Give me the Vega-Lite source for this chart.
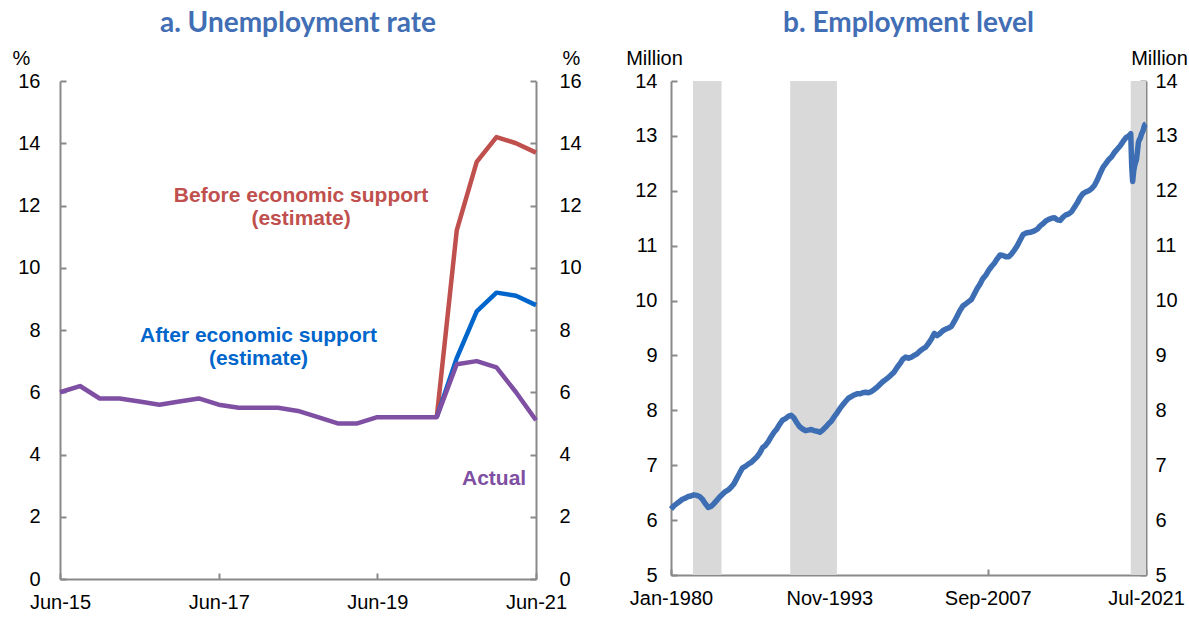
{
  "$schema": "https://vega.github.io/schema/vega-lite/v6.json",
  "background": "white",
  "padding": {"left": 12, "top": 10, "right": 2, "bottom": 2},
  "spacing": 43,
  "config": {
    "font": "Liberation Sans",
    "view": {"stroke": null},
    "axis": {
      "grid": false,
      "domainColor": "#898989",
      "domainWidth": 2,
      "tickColor": "#898989",
      "tickWidth": 2,
      "tickSize": -6,
      "labelFont": "Liberation Sans",
      "labelFontSize": 20,
      "labelColor": "#000000",
      "titleFont": "Liberation Sans",
      "titleFontSize": 20,
      "titleFontWeight": "normal",
      "titleColor": "#000000",
      "labelOverlap": false,
      "labelBound": false
    },
    "title": {"font": "Lato", "fontSize": 28, "fontWeight": "bold", "color": "#416EB4", "offset": 10}
  },
  "datasets": {
    "unemp": [
      {"date": "2015-06-01", "series": "Actual", "value": 6.0},
      {"date": "2015-09-01", "series": "Actual", "value": 6.2},
      {"date": "2015-12-01", "series": "Actual", "value": 5.8},
      {"date": "2016-03-01", "series": "Actual", "value": 5.8},
      {"date": "2016-06-01", "series": "Actual", "value": 5.7},
      {"date": "2016-09-01", "series": "Actual", "value": 5.6},
      {"date": "2016-12-01", "series": "Actual", "value": 5.7},
      {"date": "2017-03-01", "series": "Actual", "value": 5.8},
      {"date": "2017-06-01", "series": "Actual", "value": 5.6},
      {"date": "2017-09-01", "series": "Actual", "value": 5.5},
      {"date": "2017-12-01", "series": "Actual", "value": 5.5},
      {"date": "2018-03-01", "series": "Actual", "value": 5.5},
      {"date": "2018-06-01", "series": "Actual", "value": 5.4},
      {"date": "2018-09-01", "series": "Actual", "value": 5.2},
      {"date": "2018-12-01", "series": "Actual", "value": 5.0},
      {"date": "2019-03-01", "series": "Actual", "value": 5.0},
      {"date": "2019-06-01", "series": "Actual", "value": 5.2},
      {"date": "2019-09-01", "series": "Actual", "value": 5.2},
      {"date": "2019-12-01", "series": "Actual", "value": 5.2},
      {"date": "2020-03-01", "series": "Actual", "value": 5.2},
      {"date": "2020-06-01", "series": "Actual", "value": 6.9},
      {"date": "2020-09-01", "series": "Actual", "value": 7.0},
      {"date": "2020-12-01", "series": "Actual", "value": 6.8},
      {"date": "2021-03-01", "series": "Actual", "value": 6.0},
      {"date": "2021-06-01", "series": "Actual", "value": 5.1},
      {"date": "2020-03-01", "series": "Before", "value": 5.2},
      {"date": "2020-06-01", "series": "Before", "value": 11.2},
      {"date": "2020-09-01", "series": "Before", "value": 13.4},
      {"date": "2020-12-01", "series": "Before", "value": 14.2},
      {"date": "2021-03-01", "series": "Before", "value": 14.0},
      {"date": "2021-06-01", "series": "Before", "value": 13.7},
      {"date": "2020-03-01", "series": "After", "value": 5.2},
      {"date": "2020-06-01", "series": "After", "value": 7.1},
      {"date": "2020-09-01", "series": "After", "value": 8.6},
      {"date": "2020-12-01", "series": "After", "value": 9.2},
      {"date": "2021-03-01", "series": "After", "value": 9.1},
      {"date": "2021-06-01", "series": "After", "value": 8.8}
    ],
    "labels": [
      {"date": "2018-06-15", "value": 12.3, "series": "Before", "label": "Before economic support\n(estimate)"},
      {"date": "2017-12-01", "value": 7.8, "series": "After", "label": "After economic support\n(estimate)"},
      {"date": "2020-11-20", "value": 3.2, "series": "Actual", "label": "Actual"}
    ],
    "bands": [
      {"start": "1981-12-01", "end": "1984-06-01"},
      {"start": "1990-06-01", "end": "1994-07-01"},
      {"start": "2020-03-01", "end": "2021-07-01"}
    ],
    "emp": [
      {"date": "1980-01-01", "value": 6.20}, {"date": "1980-04-01", "value": 6.26}, {"date": "1980-07-01", "value": 6.30}, {"date": "1980-10-01", "value": 6.34},
      {"date": "1981-01-01", "value": 6.38}, {"date": "1981-04-01", "value": 6.40}, {"date": "1981-07-01", "value": 6.43}, {"date": "1981-10-01", "value": 6.44},
      {"date": "1982-01-01", "value": 6.46}, {"date": "1982-04-01", "value": 6.45}, {"date": "1982-07-01", "value": 6.43}, {"date": "1982-10-01", "value": 6.38},
      {"date": "1983-01-01", "value": 6.30}, {"date": "1983-04-01", "value": 6.23}, {"date": "1983-07-01", "value": 6.25}, {"date": "1983-10-01", "value": 6.30},
      {"date": "1984-01-01", "value": 6.36}, {"date": "1984-04-01", "value": 6.42}, {"date": "1984-07-01", "value": 6.47}, {"date": "1984-10-01", "value": 6.52},
      {"date": "1985-01-01", "value": 6.55}, {"date": "1985-04-01", "value": 6.60}, {"date": "1985-07-01", "value": 6.66}, {"date": "1985-10-01", "value": 6.76},
      {"date": "1986-01-01", "value": 6.86}, {"date": "1986-04-01", "value": 6.95}, {"date": "1986-07-01", "value": 6.98}, {"date": "1986-10-01", "value": 7.02},
      {"date": "1987-01-01", "value": 7.05}, {"date": "1987-04-01", "value": 7.10}, {"date": "1987-07-01", "value": 7.15}, {"date": "1987-10-01", "value": 7.22},
      {"date": "1988-01-01", "value": 7.32}, {"date": "1988-04-01", "value": 7.36}, {"date": "1988-07-01", "value": 7.43}, {"date": "1988-10-01", "value": 7.52},
      {"date": "1989-01-01", "value": 7.60}, {"date": "1989-04-01", "value": 7.66}, {"date": "1989-07-01", "value": 7.75}, {"date": "1989-10-01", "value": 7.82},
      {"date": "1990-01-01", "value": 7.85}, {"date": "1990-04-01", "value": 7.89}, {"date": "1990-07-01", "value": 7.91}, {"date": "1990-10-01", "value": 7.86},
      {"date": "1991-01-01", "value": 7.77}, {"date": "1991-04-01", "value": 7.70}, {"date": "1991-07-01", "value": 7.66}, {"date": "1991-10-01", "value": 7.63},
      {"date": "1992-01-01", "value": 7.64}, {"date": "1992-04-01", "value": 7.65}, {"date": "1992-07-01", "value": 7.63}, {"date": "1992-10-01", "value": 7.62},
      {"date": "1993-01-01", "value": 7.60}, {"date": "1993-04-01", "value": 7.64}, {"date": "1993-07-01", "value": 7.69}, {"date": "1993-10-01", "value": 7.75},
      {"date": "1994-01-01", "value": 7.80}, {"date": "1994-04-01", "value": 7.88}, {"date": "1994-07-01", "value": 7.95}, {"date": "1994-10-01", "value": 8.03},
      {"date": "1995-01-01", "value": 8.10}, {"date": "1995-04-01", "value": 8.16}, {"date": "1995-07-01", "value": 8.22}, {"date": "1995-10-01", "value": 8.25},
      {"date": "1996-01-01", "value": 8.28}, {"date": "1996-04-01", "value": 8.30}, {"date": "1996-07-01", "value": 8.30}, {"date": "1996-10-01", "value": 8.32},
      {"date": "1997-01-01", "value": 8.33}, {"date": "1997-04-01", "value": 8.32}, {"date": "1997-07-01", "value": 8.34}, {"date": "1997-10-01", "value": 8.38},
      {"date": "1998-01-01", "value": 8.42}, {"date": "1998-04-01", "value": 8.47}, {"date": "1998-07-01", "value": 8.52}, {"date": "1998-10-01", "value": 8.56},
      {"date": "1999-01-01", "value": 8.60}, {"date": "1999-04-01", "value": 8.65}, {"date": "1999-07-01", "value": 8.70}, {"date": "1999-10-01", "value": 8.78},
      {"date": "2000-01-01", "value": 8.85}, {"date": "2000-04-01", "value": 8.93}, {"date": "2000-07-01", "value": 8.97}, {"date": "2000-10-01", "value": 8.95},
      {"date": "2001-01-01", "value": 8.97}, {"date": "2001-04-01", "value": 9.00}, {"date": "2001-07-01", "value": 9.03}, {"date": "2001-10-01", "value": 9.08},
      {"date": "2002-01-01", "value": 9.12}, {"date": "2002-04-01", "value": 9.15}, {"date": "2002-07-01", "value": 9.22}, {"date": "2002-10-01", "value": 9.30},
      {"date": "2003-01-01", "value": 9.40}, {"date": "2003-04-01", "value": 9.36}, {"date": "2003-07-01", "value": 9.40}, {"date": "2003-10-01", "value": 9.45},
      {"date": "2004-01-01", "value": 9.48}, {"date": "2004-04-01", "value": 9.50}, {"date": "2004-07-01", "value": 9.53}, {"date": "2004-10-01", "value": 9.62},
      {"date": "2005-01-01", "value": 9.72}, {"date": "2005-04-01", "value": 9.82}, {"date": "2005-07-01", "value": 9.90}, {"date": "2005-10-01", "value": 9.94},
      {"date": "2006-01-01", "value": 9.98}, {"date": "2006-04-01", "value": 10.02}, {"date": "2006-07-01", "value": 10.12}, {"date": "2006-10-01", "value": 10.22},
      {"date": "2007-01-01", "value": 10.30}, {"date": "2007-04-01", "value": 10.40}, {"date": "2007-07-01", "value": 10.46}, {"date": "2007-10-01", "value": 10.55},
      {"date": "2008-01-01", "value": 10.62}, {"date": "2008-04-01", "value": 10.68}, {"date": "2008-07-01", "value": 10.76}, {"date": "2008-10-01", "value": 10.83},
      {"date": "2009-01-01", "value": 10.82}, {"date": "2009-04-01", "value": 10.80}, {"date": "2009-07-01", "value": 10.80}, {"date": "2009-10-01", "value": 10.85},
      {"date": "2010-01-01", "value": 10.92}, {"date": "2010-04-01", "value": 11.00}, {"date": "2010-07-01", "value": 11.10}, {"date": "2010-10-01", "value": 11.20},
      {"date": "2011-01-01", "value": 11.23}, {"date": "2011-04-01", "value": 11.24}, {"date": "2011-07-01", "value": 11.25}, {"date": "2011-10-01", "value": 11.27},
      {"date": "2012-01-01", "value": 11.30}, {"date": "2012-04-01", "value": 11.36}, {"date": "2012-07-01", "value": 11.40}, {"date": "2012-10-01", "value": 11.45},
      {"date": "2013-01-01", "value": 11.48}, {"date": "2013-04-01", "value": 11.50}, {"date": "2013-07-01", "value": 11.51}, {"date": "2013-10-01", "value": 11.47},
      {"date": "2014-01-01", "value": 11.46}, {"date": "2014-04-01", "value": 11.52}, {"date": "2014-07-01", "value": 11.56}, {"date": "2014-10-01", "value": 11.58},
      {"date": "2015-01-01", "value": 11.62}, {"date": "2015-04-01", "value": 11.70}, {"date": "2015-07-01", "value": 11.78}, {"date": "2015-10-01", "value": 11.88},
      {"date": "2016-01-01", "value": 11.95}, {"date": "2016-04-01", "value": 11.98}, {"date": "2016-07-01", "value": 12.00}, {"date": "2016-10-01", "value": 12.04},
      {"date": "2017-01-01", "value": 12.10}, {"date": "2017-04-01", "value": 12.20}, {"date": "2017-07-01", "value": 12.32}, {"date": "2017-10-01", "value": 12.43},
      {"date": "2018-01-01", "value": 12.50}, {"date": "2018-04-01", "value": 12.57}, {"date": "2018-07-01", "value": 12.62}, {"date": "2018-10-01", "value": 12.70},
      {"date": "2019-01-01", "value": 12.76}, {"date": "2019-04-01", "value": 12.82}, {"date": "2019-07-01", "value": 12.90}, {"date": "2019-10-01", "value": 12.97},
      {"date": "2020-01-01", "value": 13.00}, {"date": "2020-03-01", "value": 13.04}, {"date": "2020-04-01", "value": 12.45}, {"date": "2020-05-01", "value": 12.17},
      {"date": "2020-06-01", "value": 12.35}, {"date": "2020-07-01", "value": 12.45}, {"date": "2020-08-01", "value": 12.52}, {"date": "2020-09-01", "value": 12.57},
      {"date": "2020-10-01", "value": 12.72}, {"date": "2020-11-01", "value": 12.88}, {"date": "2020-12-01", "value": 12.93}, {"date": "2021-01-01", "value": 12.96},
      {"date": "2021-02-01", "value": 13.02}, {"date": "2021-03-01", "value": 13.06}, {"date": "2021-04-01", "value": 13.10}, {"date": "2021-05-01", "value": 13.17},
      {"date": "2021-06-01", "value": 13.21}, {"date": "2021-07-01", "value": 13.22}
    ]
  },
  "hconcat": [
    {
      "width": 476,
      "height": 498,
      "title": {"text": "a. Unemployment rate"},
      "encoding": {
        "x": {
          "field": "date", "type": "temporal",
          "scale": {"type": "utc", "domain": [{"year": 2015, "month": 6, "date": 1, "utc": true}, {"year": 2021, "month": 6, "date": 1, "utc": true}]},
          "axis": {
            "title": null, "format": "%b-%y", "labelFlush": false, "labelPadding": 19,
            "values": [{"year": 2015, "month": 6, "date": 1, "utc": true}, {"year": 2017, "month": 6, "date": 1, "utc": true}, {"year": 2019, "month": 6, "date": 1, "utc": true}, {"year": 2021, "month": 6, "date": 1, "utc": true}]
          }
        }
      },
      "layer": [
        {
          "data": {"name": "unemp"},
          "transform": [{"filter": "datum.series === 'Before'"}],
          "mark": {"type": "line", "color": "#C0504D", "strokeWidth": 4.5, "strokeJoin": "round"},
          "encoding": {
            "y": {"field": "value", "type": "quantitative", "scale": {"domain": [0, 16], "nice": false, "zero": true},
              "axis": {"orient": "left", "values": [0, 2, 4, 6, 8, 10, 12, 14, 16], "labelPadding": 26, "title": "%", "titleAngle": 0, "titleAlign": "center", "titleBaseline": "middle", "titleX": -39, "titleY": -23}}
          }
        },
        {
          "data": {"name": "unemp"},
          "transform": [{"filter": "datum.series === 'After'"}],
          "mark": {"type": "line", "color": "#0066CC", "strokeWidth": 4.5, "strokeJoin": "round"},
          "encoding": {
            "y": {"field": "value", "type": "quantitative", "scale": {"domain": [0, 16], "nice": false}, "axis": null}
          }
        },
        {
          "data": {"name": "unemp"},
          "transform": [{"filter": "datum.series === 'Actual'"}],
          "mark": {"type": "line", "color": "#7E4FA2", "strokeWidth": 4.5, "strokeJoin": "round"},
          "encoding": {
            "y": {"field": "value", "type": "quantitative", "scale": {"domain": [0, 16], "nice": false}, "axis": null}
          }
        },
        {
          "data": {"name": "labels"},
          "mark": {"type": "text", "font": "Liberation Sans", "fontWeight": "bold", "fontSize": 21, "lineBreak": "\n", "lineHeight": 23, "align": "center", "baseline": "middle"},
          "encoding": {
            "y": {"field": "value", "type": "quantitative", "scale": {"domain": [0, 16], "nice": false},
              "axis": {"orient": "right", "values": [0, 2, 4, 6, 8, 10, 12, 14, 16], "labelPadding": 29, "title": "%", "titleAngle": 0, "titleAlign": "center", "titleBaseline": "middle", "titleX": 35, "titleY": -23}},
            "text": {"field": "label"},
            "color": {"field": "series", "type": "nominal", "scale": {"domain": ["Before", "After", "Actual"], "range": ["#C0504D", "#0066CC", "#7E4FA2"]}, "legend": null}
          }
        }
      ],
      "resolve": {"axis": {"y": "independent"}}
    },
    {
      "width": 475,
      "height": 494,
      "title": {"text": "b. Employment level"},
      "layer": [
        {
          "data": {"name": "bands"},
          "mark": {"type": "rect", "color": "#D9D9D9"},
          "encoding": {
            "x": {"field": "start", "type": "temporal",
              "scale": {"type": "utc", "domain": [{"year": 1980, "month": 1, "date": 1, "utc": true}, {"year": 2021, "month": 7, "date": 1, "utc": true}]},
              "axis": {
                "title": null, "format": "%b-%Y", "labelFlush": false, "labelPadding": 19,
                "values": [{"year": 1980, "month": 1, "date": 1, "utc": true}, {"year": 1993, "month": 11, "date": 1, "utc": true}, {"year": 2007, "month": 9, "date": 1, "utc": true}, {"year": 2021, "month": 7, "date": 1, "utc": true}]
              }},
            "x2": {"field": "end"},
            "y": {"datum": 5, "type": "quantitative", "scale": {"domain": [5, 14], "nice": false, "zero": false}, "axis": null},
            "y2": {"datum": 14}
          }
        },
        {
          "data": {"name": "emp"},
          "mark": {"type": "line", "color": "#3D6EB4", "strokeWidth": 5.5, "strokeJoin": "round"},
          "encoding": {
            "x": {"field": "date", "type": "temporal", "title": null},
            "y": {"field": "value", "type": "quantitative", "scale": {"domain": [5, 14], "nice": false, "zero": false},
              "axis": {"orient": "left", "values": [5, 6, 7, 8, 9, 10, 11, 12, 13, 14], "labelPadding": 20, "title": "Million", "titleAngle": 0, "titleAlign": "center", "titleBaseline": "middle", "titleX": -17, "titleY": -23}}
          }
        },
        {
          "data": {"name": "emp"},
          "mark": {"type": "point", "opacity": 0},
          "encoding": {
            "x": {"field": "date", "type": "temporal", "title": null},
            "y": {"field": "value", "type": "quantitative", "scale": {"domain": [5, 14], "nice": false, "zero": false},
              "axis": {"orient": "right", "values": [5, 6, 7, 8, 9, 10, 11, 12, 13, 14], "labelPadding": 15, "title": "Million", "titleAngle": 0, "titleAlign": "center", "titleBaseline": "middle", "titleX": 13, "titleY": -23}}
          }
        }
      ],
      "resolve": {"axis": {"y": "independent"}}
    }
  ]
}
